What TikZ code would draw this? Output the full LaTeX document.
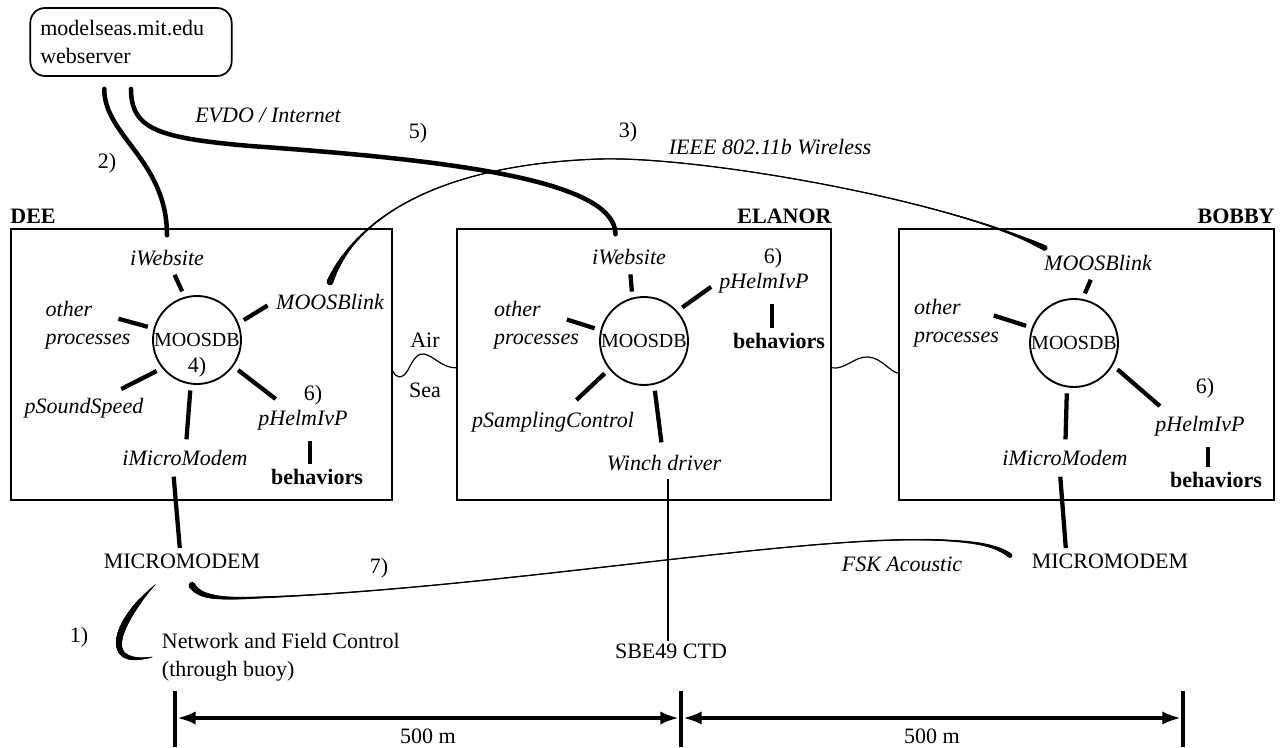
\documentclass[tikz,border=0pt]{standalone}
\usepackage{fontspec}
\setmainfont{Liberation Serif}
\usetikzlibrary{arrows.meta,decorations.markings}

\tikzset{
  proc/.style={font=\itshape},
  vname/.style={font=\bfseries},
  vehicle/.style={draw, line width=1.3pt, minimum height=203.25pt, inner sep=0pt},
  db/.style={circle, draw, line width=1.4pt, minimum size=66pt, inner sep=0pt, font=\fontsize{15}{18}\selectfont},
  spoke/.style={line width=3.2pt, shorten <=4.5pt, shorten >=5pt},
  net/.style={line width=3.4pt, line cap=round},
  wire/.style={line width=0.9pt},
  tapered/.style={postaction={decorate, decoration={markings,
    mark=between positions 0 and 1 step 0.5pt with {%
      \pgfmathsetmacro{\brushr}{0.45+2.1*exp(-\pgfkeysvalueof{/pgf/decoration/mark info/distance from start}/30)+2.1*exp(-(\pgfdecoratedpathlength-\pgfkeysvalueof{/pgf/decoration/mark info/distance from start})/30)}%
      \fill (0,0) circle (\brushr pt);}}}},
  bulged/.style={postaction={decorate, decoration={markings,
    mark=between positions 0 and 1 step 0.4pt with {%
      \pgfmathsetmacro{\brushr}{0.3+2.1*sin(180*\pgfkeysvalueof{/pgf/decoration/mark info/distance from start}/\pgfdecoratedpathlength)}%
      \fill (0,0) circle (\brushr pt);}}}},
  tick/.style={line width=3.5pt},
  dim/.style={line width=3pt, >={Latex[length=14pt,width=10pt]}, <->, shorten <=1.5pt, shorten >=1.5pt}
}

\begin{document}
\begin{tikzpicture}[x=0.75pt, y=-0.75pt, every node/.style={inner sep=2pt}]
\fontsize{16.5}{21}\selectfont
\useasboundingbox (0,0) rectangle (1285,748);

% webserver
\node[draw, line width=1.3pt, rounded corners=11pt, align=left, text width=136pt, inner xsep=7.5pt, minimum height=51pt] (server) at (131,42) {modelseas.mit.edu\\webserver};

% vehicle boxes
\node[vehicle, minimum width=285.75pt] (dee box) at (201.5,364.5) {};
\node[vehicle, minimum width=280.5pt] (el box) at (644,364.5) {};
\node[vehicle, minimum width=281.25pt] (bob box) at (1086.5,364.5) {};
\node[vname, anchor=south west, inner xsep=0pt, inner ysep=3pt] (dee name) at (dee box.north west) {DEE};
\node[vname, anchor=south east, inner xsep=0pt, inner ysep=3pt] (el name) at (el box.north east) {ELANOR};
\node[vname, anchor=south east, inner xsep=0pt, inner ysep=3pt] (bob name) at (bob box.north east) {BOBBY};

% DEE
\node[db] (dee db) at (197,340) {MOOSDB};
\node (dee four) at (197,367) {4)};
\node[proc] (dee web) at (167,258) {iWebsite};
\node[proc] (dee link) at (330,302) {MOOSBlink};
\node[proc, align=left] (dee oth) at (88,325) {other\\processes};
\node[proc] (dee ss) at (84,408) {pSoundSpeed};
\node[proc] (dee mm) at (185,458) {iMicroModem};
\node[proc] (dee helm) at (303,420) {pHelmIvP};
\node (dee six) at (313,395) {6)};
\node[vname] (dee beh) at (317,477) {behaviors};
\draw[spoke] (dee db.106) -- (dee web);
\draw[spoke] (dee db.22) -- (dee link.west);
\draw[spoke] (dee db.165) -- ([shift={(-16pt,6pt)}]dee oth.east);
\draw[spoke, shorten >=10pt] (dee db.219) -- (dee ss);
\draw[spoke, shorten >=6pt] (dee db.262) -- (dee mm);
\draw[spoke, shorten >=10pt] (dee db.-36) -- (dee helm);
\draw[spoke, shorten <=1.5pt, shorten >=6pt] ([xshift=-5pt]dee beh.north) -- ([xshift=-5pt]dee beh.north |- dee helm.south);

% ELANOR
\node[db] (el db) at (644,341) {MOOSDB};
\node[proc] (el web) at (629,257) {iWebsite};
\node (el six) at (773,258) {6)};
\node[proc] (el helm) at (764,283) {pHelmIvP};
\node[vname] (el beh) at (779,341) {behaviors};
\node[proc, align=left] (el oth) at (536.5,325.5) {other\\processes};
\node[proc] (el samp) at (553,422) {pSamplingControl};
\node[proc] (el winch) at (664,463) {Winch driver};
\draw[spoke] (el db.105) -- (el web);
\draw[spoke] (el db.42) -- (el helm.west);
\draw[spoke] (el db.166) -- ([shift={(-16pt,6pt)}]el oth.east);
\draw[spoke, shorten >=10pt] (el db.219) -- (el samp);
\draw[spoke, shorten >=7.5pt] (el db.-77) -- (el winch);
\draw[spoke, shorten <=1.5pt, shorten >=6pt] ([xshift=-5pt]el beh.north) -- ([xshift=-5pt]el beh.north |- el helm.south);

% BOBBY
\node[db] (bob db) at (1074,343) {MOOSDB};
\node[proc] (bob link) at (1098,263) {MOOSBlink};
\node[proc, align=left] (bob oth) at (956.5,323.5) {other\\processes};
\node (bob six) at (1205,388) {6)};
\node[proc] (bob helm) at (1200,426) {pHelmIvP};
\node[proc] (bob mm) at (1065,458) {iMicroModem};
\node[vname] (bob beh) at (1216,480) {behaviors};
\draw[spoke] (bob db.79) -- (bob link);
\draw[spoke, shorten >=0pt] (bob db.160) -- ([shift={(-6pt,6pt)}]bob oth.east);
\draw[spoke, shorten >=6pt] (bob db.261) -- (bob mm);
\draw[spoke, shorten >=8pt] (bob db.-30) -- ([xshift=-24pt]bob helm.north);
\draw[spoke, shorten <=1.5pt, shorten >=6pt] ([xshift=-6pt]bob beh.north) -- ([xshift=-6pt]bob beh.north |- bob helm.south);

% air / sea surface
\node (air) at (425,340) {Air};
\node (sea) at (425,390) {Sea};
\draw[wire] ([yshift=-5pt]dee box.east) .. controls (396,378) and (402,380) .. (408,370) .. controls (414,358) and (418,353) .. (424,354) .. controls (434,356) and (442,368) .. ([yshift=-2.5pt]el box.west);
\draw[wire] ([yshift=-2.5pt]el box.east) .. controls (845,370) and (855,356) .. (868,357) .. controls (882,358) and (890,372) .. ([yshift=-6.5pt]bob box.west);

% links to the webserver
\node (two) at (107,163) {2)};
\node[proc] (evdo) at (268,115) {EVDO / Internet};
\node (five) at (418,133) {5)};
\draw[net, shorten <=9pt, shorten >=9pt] ([xshift=-20pt]server.south) .. controls (104,136) and (167,160) .. (dee web.north);
\draw[net, shorten <=9pt, shorten >=9pt] (server.south) .. controls (131,130) and (160,138) .. (250,146) .. controls (450,160) and (615,180) .. ([xshift=-10pt]el web.north);

% wireless link
\node (three) at (628,132) {3)};
\node[proc] (ieee) at (770,147) {IEEE 802.11b Wireless};
\draw[wire, tapered] ([yshift=7pt]dee link.north) .. controls (350,230) and (420,165) .. (600,159) .. controls (700,156) and (950,200) .. ([shift={(3pt,3pt)}]bob link.north west);

% modems and acoustic link
\node (dee modem) at (182,561) {MICROMODEM};
\node (bob modem) at (1110,561) {MICROMODEM};
\node (seven) at (379,568) {7)};
\node[proc] (fsk) at (902,564) {FSK Acoustic};
\draw[spoke, shorten <=6pt, shorten >=2pt] ([xshift=-9pt]dee mm.south) -- ([xshift=-1.5pt]dee modem.north);
\draw[spoke, shorten <=6pt, shorten >=2pt] ([xshift=-4pt]bob mm.south) -- ([xshift=-33pt]bob modem.north);
\draw[wire, tapered] ([xshift=7.5pt, yshift=-10.5pt]dee modem.south) .. controls (198,595) and (212,599) .. (245,598) .. controls (500,590) and (820,530) .. (955,541) .. controls (985,543) and (1000,548) .. ([xshift=-14pt, yshift=4pt]bob modem.west);

% buoy link
\node (one) at (79,637) {1)};
\node[align=left, anchor=west] (net) at (159,657) {Network and Field Control\\(through buoy)};
\path[bulged] ([xshift=-20pt, yshift=-10pt]dee modem.south) .. controls (118,620) and (98,668) .. ([xshift=-5pt]net.west);

% CTD
\node (sbe) at (671,651) {SBE49 CTD};
\draw[wire, shorten >=4pt] ([xshift=-2.25pt]sbe.north) -- ([xshift=-2.25pt]sbe.north |- el winch.south);

% distances
\coordinate (m0) at (175,718);
\coordinate (m1) at (681,718);
\coordinate (m2) at (1183,718);
\foreach \m in {m0,m1,m2}
  \draw[tick] ([yshift=20pt]\m) -- ([yshift=-22pt]\m);
\draw[dim] (m0) -- (m1) node[midway, yshift=-14pt] (d1) {500 m};
\draw[dim] (m1) -- (m2) node[midway, yshift=-14pt] (d2) {500 m};
\end{tikzpicture}
\end{document}
